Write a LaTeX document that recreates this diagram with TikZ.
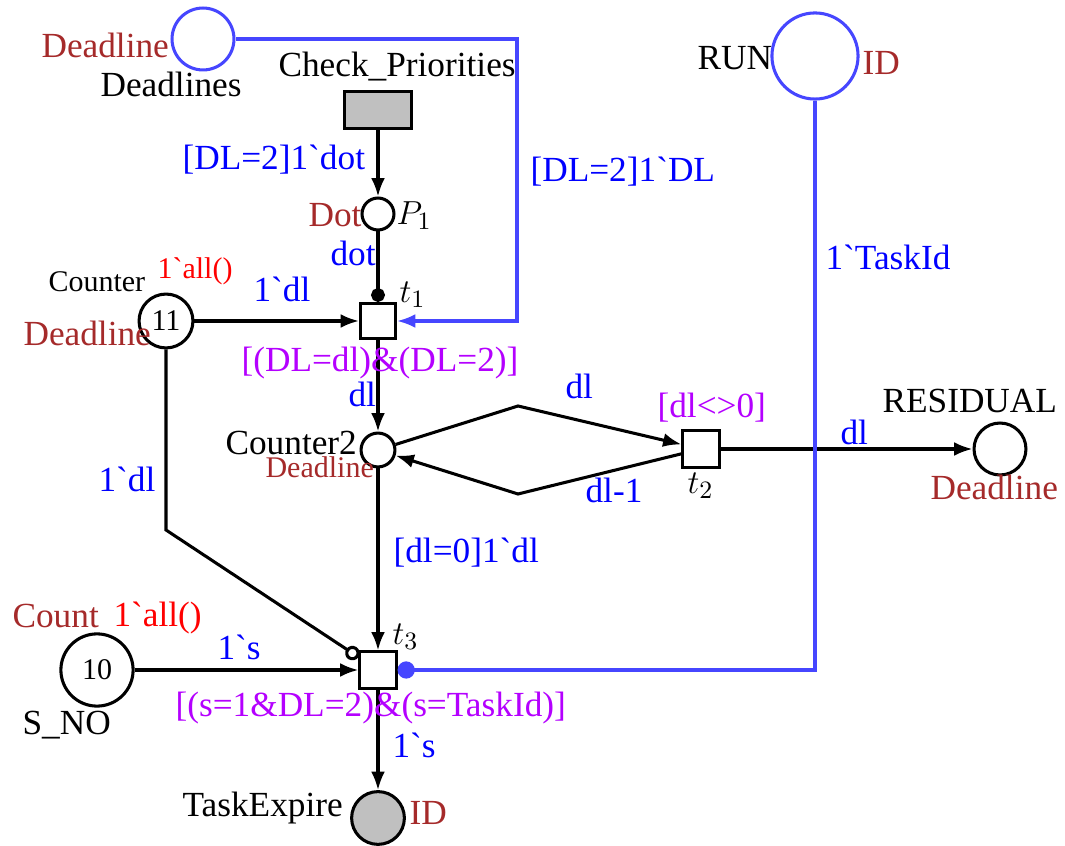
\documentclass[tikz,border=0pt]{standalone}
\usepackage{fontspec}
\newfontfamily\cpnfont{Liberation Serif}
\usetikzlibrary{arrows.meta}
\definecolor{arcblue}{RGB}{70,70,255}
\definecolor{inscblue}{RGB}{0,0,255}
\definecolor{guardpurple}{RGB}{180,0,255}
\definecolor{typebrown}{RGB}{165,42,42}
\definecolor{initred}{RGB}{255,0,0}
\definecolor{tokgray}{RGB}{192,192,192}
\newcommand{\cpnbig}{\fontsize{12.7}{14}\cpnfont}
\newcommand{\cpnsmall}{\fontsize{10.8}{12}\cpnfont}
\newcommand{\bq}{\symbol{96}}

\begin{document}
\begin{tikzpicture}[x=0.36pt,y=-0.36pt]
  \tikzset{place/.style={circle,draw=black,line width=1.1pt,inner sep=0pt,font=\cpnsmall}}
  \tikzset{transition/.style={rectangle,draw=black,line width=1.1pt,fill=white,inner sep=0pt}}
  \tikzset{arc/.style={draw=black,line width=1.1pt,-{Latex[length=6.6pt,width=5pt]}}}
  \tikzset{bluearc/.style={draw=arcblue,line width=1.1pt}}
  \tikzset{lbl/.style={anchor=base west,inner sep=0pt,font=\cpnbig}}
  \tikzset{smalllbl/.style={anchor=base west,inner sep=0pt,font=\cpnsmall}}
  \useasboundingbox (0,0) rectangle (1065,846);
  % places and transitions
  \node[place,draw=arcblue,minimum size=22.3pt] (deadlines) at (203,39) {};
  \node[transition,fill=tokgray,minimum width=24.1pt,minimum height=13pt] (chkprio) at (378,110) {};
  \node[place,minimum size=11.5pt] (p1) at (378,214) {};
  \node[transition,minimum size=12.6pt] (t1) at (378,321) {};
  \node[place,minimum size=19.4pt] (counter) at (166,321) {11};
  \node[place,minimum size=12.2pt] (counter2) at (378,450) {};
  \node[transition,minimum size=13pt] (t2) at (701,449) {};
  \node[place,minimum size=18.7pt] (residual) at (1000,449) {};
  \node[place,draw=arcblue,minimum size=31pt] (run) at (815,56) {};
  \node[transition,minimum size=13pt] (t3) at (378,670) {};
  \node[place,minimum size=26pt] (sno) at (97,670) {10};
  \node[place,fill=tokgray,minimum size=19pt] (taskexpire) at (378,818) {};
  \coordinate (dlturn1) at (517,39);
  \coordinate (dlturn2) at (517,321);
  \coordinate (cupper) at (518,406);
  \coordinate (clower) at (518,494);
  \coordinate (cbend) at (166,530);
  \coordinate (runturn) at (815,670);
  % arcs
  \draw[arc] (chkprio) -- (p1);
  \draw[draw=black,line width=1.1pt,-{Circle[length=5pt]}] (p1) -- (t1);
  \draw[arc] (counter) -- (t1);
  \draw[arc] (t1) -- (counter2);
  \draw[arc] (counter2) -- (cupper) -- (t2);
  \draw[arc] (t2) -- (clower) -- (counter2);
  \draw[arc] (t2) -- (residual);
  \draw[arc] (counter2) -- (t3);
  \draw[draw=black,line width=1.1pt,-{Circle[open,length=5.2pt]}] (counter) -- (cbend) -- (t3);
  \draw[arc] (sno) -- (t3);
  \draw[arc] (t3) -- (taskexpire);
  \draw[bluearc,-{Latex[length=6.6pt,width=5pt]}] (deadlines) -- (dlturn1) -- (dlturn2) -- (t1);
  \draw[bluearc,-{Circle[length=6.2pt]}] (run) -- (runturn) -- (t3);
  % names, colour sets, initial markings
  \node[lbl,text=typebrown] (dltype) at (41,58) {Deadline};
  \node[lbl] (dlname) at (100,97) {Deadlines};
  \node[lbl] (chkname) at (278,77) {Check\_Priorities};
  \node[lbl,text=typebrown] (p1type) at (308,227) {Dot};
  \node[lbl] (p1name) at (396,225) {$P_1$};
  \node[lbl] (runname) at (697,70) {RUN};
  \node[lbl,text=typebrown] (runtype) at (862,75) {ID};
  \node[smalllbl] (cntname) at (48,292) {Counter};
  \node[smalllbl,text=initred] (cntinit) at (157,279) {1\bq all()};
  \node[lbl,text=typebrown] (cnttype) at (23,346) {Deadline};
  \node[lbl] (t1name) at (399,303) {$t_1$};
  \node[lbl] (c2name) at (225,455) {Counter2};
  \node[smalllbl,text=typebrown] (c2type) at (265,478) {Deadline};
  \node[lbl] (resname) at (882,413) {RESIDUAL};
  \node[lbl,text=typebrown] (restype) at (930,500) {Deadline};
  \node[lbl] (t2name) at (687,494) {$t_2$};
  \node[lbl,text=typebrown] (snotype) at (12,628) {Count};
  \node[lbl,text=initred] (snoinit) at (113,627) {1\bq all()};
  \node[lbl] (snoname) at (22,735) {S\_NO};
  \node[lbl] (t3name) at (392,645) {$t_3$};
  \node[lbl] (tename) at (182,817) {TaskExpire};
  \node[lbl,text=typebrown] (tetype) at (409,825) {ID};
  % arc inscriptions and guards
  \node[lbl,text=inscblue] (ichk) at (182,170) {[DL=2]1\bq dot};
  \node[lbl,text=inscblue] (idl) at (530,182) {[DL=2]1\bq DL};
  \node[lbl,text=inscblue] (irun) at (825,270) {1\bq TaskId};
  \node[lbl,text=inscblue] (ip1) at (330,266) {dot};
  \node[lbl,text=inscblue] (icnt) at (253,302) {1\bq dl};
  \node[lbl,text=guardpurple] (gt1) at (241,372) {[(DL=dl)\&(DL=2)]};
  \node[lbl,text=inscblue] (it1) at (348,407) {dl};
  \node[lbl,text=inscblue] (iup) at (565,399) {dl};
  \node[lbl,text=guardpurple] (gt2) at (657,418) {[dl<>0]};
  \node[lbl,text=inscblue] (ires) at (840,445) {dl};
  \node[lbl,text=inscblue] (idown) at (585,503) {dl-1};
  \node[lbl,text=inscblue] (iinh) at (98,492) {1\bq dl};
  \node[lbl,text=inscblue] (ic2) at (393,563) {[dl=0]1\bq dl};
  \node[lbl,text=inscblue] (isno) at (217,660) {1\bq s};
  \node[lbl,text=guardpurple] (gt3) at (175,717) {[(s=1\&DL=2)\&(s=TaskId)]};
  \node[lbl,text=inscblue] (ite) at (392,758) {1\bq s};
\end{tikzpicture}
\end{document}
